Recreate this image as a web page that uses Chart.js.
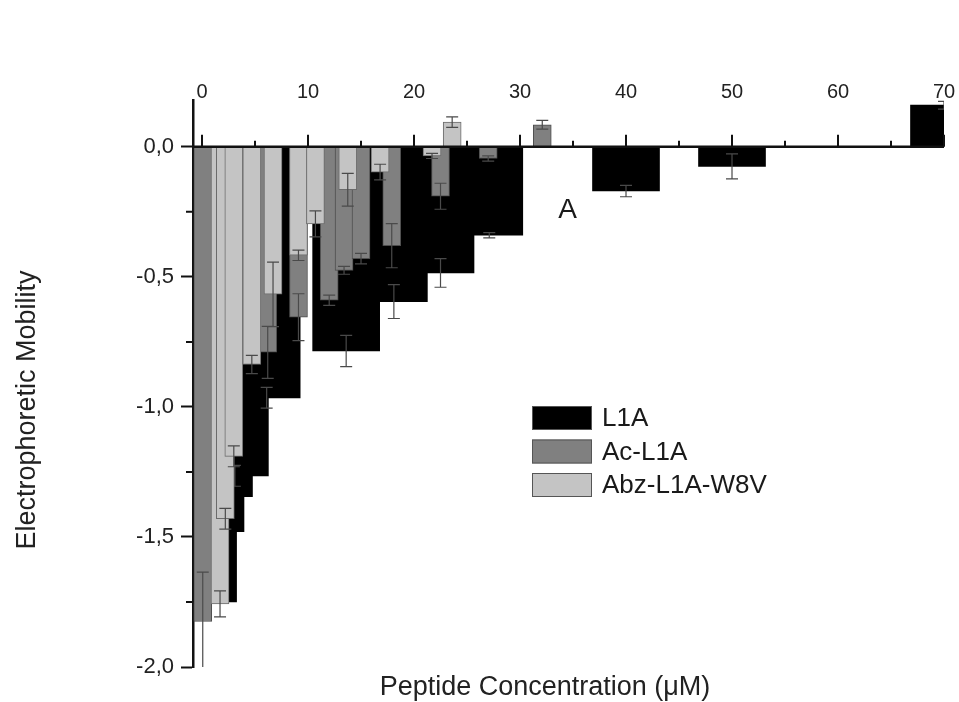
<!DOCTYPE html>
<html>
<head>
<meta charset="utf-8">
<script src="https://cdn.jsdelivr.net/npm/chart.js@4.4.1/dist/chart.umd.min.js"></script>
<style>
  html, body { margin: 0; padding: 0; background: #fff; }
</style>
</head>
<body>
<canvas id="mobilityChart" width="959" height="702"></canvas>
<script>
// peptide concentration (uM) / electrophoretic mobility / error, per peptide
const l1aConc = [0.1, 0.8, 1.6, 3.1, 6.1, 13.6, 18.1, 22.5, 27.1, 40, 50, 70];
const l1aMob  = [-1.75, -1.48, -1.345, -1.265, -0.965, -0.785, -0.595, -0.485, -0.34, -0.17, -0.075, 0.16];
const l1aErr  = [0.04, 0.04, 0.04, 0.04, 0.04, 0.06, 0.065, 0.055, 0.01, 0.022, 0.048, 0.015];

const acConc = [0.07, 6.2, 9.1, 12.0, 13.4, 15.0, 17.9, 22.5, 27.0, 32.1];
const acMob  = [-1.825, -0.79, -0.655, -0.59, -0.475, -0.43, -0.38, -0.19, -0.045, 0.085];
const acErr  = [0.19, 0.1, 0.09, 0.02, 0.015, 0.02, 0.085, 0.05, 0.01, 0.017];

const abzConc = [1.7, 2.2, 3.0, 4.7, 6.7, 9.1, 10.7, 13.75, 16.8, 21.7, 23.6];
const abzMob  = [-1.757, -1.43, -1.19, -0.837, -0.567, -0.417, -0.296, -0.165, -0.097, -0.035, 0.095];
const abzErr  = [0.05, 0.04, 0.04, 0.035, 0.124, 0.02, 0.05, 0.063, 0.03, 0.01, 0.02];

const xTicks = [0, 10, 20, 30, 40, 50, 60, 70];
const xMinorTicks = [5, 15, 25, 35, 45, 55, 65];
const yTicks = [0, -0.5, -1.0, -1.5, -2.0];
const yMinorTicks = [-0.25, -0.75, -1.25, -1.75];

const FONT = "'Liberation Sans', Arial, sans-serif";
const points = (xs, ys) => xs.map((x, i) => ({x: x, y: ys[i]}));

// error bars, drawn right after their own dataset so later bars cover them
const errorBars = {
    id: 'errorBars',
    afterDatasetDraw(chart, args) {
        const ds = chart.data.datasets[args.index];
        if (!ds.errors) return;
        const {ctx, chartArea: a} = chart;
        const y = chart.scales.y;
        ctx.save();
        ctx.beginPath();
        ctx.rect(a.left, a.top, a.right - a.left, a.bottom - a.top);
        ctx.clip();
        ctx.strokeStyle = '#4a4a4a';
        ctx.lineWidth = 1.2;
        args.meta.data.forEach((bar, i) => {
            const v = ds.data[i].y, e = ds.errors[i];
            const y1 = y.getPixelForValue(v - e), y2 = y.getPixelForValue(v + e);
            ctx.beginPath();
            ctx.moveTo(bar.x, y1); ctx.lineTo(bar.x, y2);
            ctx.moveTo(bar.x - 6, y1); ctx.lineTo(bar.x + 6, y1);
            ctx.moveTo(bar.x - 6, y2); ctx.lineTo(bar.x + 6, y2);
            ctx.stroke();
        });
        ctx.restore();
    }
};

// zero line with its upward ticks, plus minor ticks on the left axis
const axisMarks = {
    id: 'axisMarks',
    afterDatasetsDraw(chart) {
        const {ctx, chartArea: a, scales: {x, y}} = chart;
        const y0 = y.getPixelForValue(0);
        ctx.save();
        ctx.strokeStyle = '#111';
        ctx.lineWidth = 2.5;
        ctx.beginPath();
        ctx.moveTo(a.left, y0); ctx.lineTo(a.right, y0);
        ctx.stroke();
        ctx.lineWidth = 2;
        ctx.beginPath();
        xTicks.forEach(v => { const px = x.getPixelForValue(v); ctx.moveTo(px, y0); ctx.lineTo(px, y0 - 12); });
        xMinorTicks.forEach(v => { const px = x.getPixelForValue(v); ctx.moveTo(px, y0); ctx.lineTo(px, y0 - 6); });
        yMinorTicks.forEach(v => { const py = y.getPixelForValue(v); ctx.moveTo(a.left, py); ctx.lineTo(a.left - 7, py); });
        ctx.stroke();
        ctx.restore();
    }
};

// legend boxes inside the plot, panel letter and the two axis titles
const boxLegend = {
    id: 'boxLegend',
    afterDraw(chart, args, opts) {
        const {ctx, scales: {x, y}} = chart;
        ctx.save();
        ctx.font = '26px ' + FONT;
        ctx.textBaseline = 'middle';
        ctx.textAlign = 'left';
        chart.data.datasets.forEach((ds, i) => {
            const top = opts.top + i * opts.rowGap;
            ctx.fillStyle = ds.backgroundColor;
            ctx.fillRect(opts.left, top, opts.boxWidth, opts.boxHeight);
            ctx.strokeStyle = '#555';
            ctx.lineWidth = 1;
            ctx.strokeRect(opts.left + 0.5, top + 0.5, opts.boxWidth - 1, opts.boxHeight - 1);
            ctx.fillStyle = '#1a1a1a';
            ctx.fillText(ds.label, opts.left + opts.boxWidth + 10, top + opts.boxHeight / 2 + 1);
        });
        ctx.font = '28px ' + FONT;
        ctx.textAlign = 'center';
        ctx.fillText('A', x.getPixelForValue(34.5), y.getPixelForValue(-0.245));

        ctx.fillStyle = '#222';
        ctx.font = '27px ' + FONT;
        ctx.fillText('Peptide Concentration (\u03bcM)', opts.xTitle[0], opts.xTitle[1]);
        ctx.translate(opts.yTitle[0], opts.yTitle[1]);
        ctx.rotate(-Math.PI / 2);
        ctx.fillText('Electrophoretic Mobility', 0, 0);
        ctx.restore();
    }
};

const ctx = document.getElementById('mobilityChart').getContext('2d');
new Chart(ctx, {
    type: 'bar',
    data: {
        datasets: [
            {
                label: 'L1A',
                data: points(l1aConc, l1aMob),
                errors: l1aErr,
                backgroundColor: '#000000',
                borderWidth: 0,
                barThickness: 67,
                grouped: false,
                order: 3,
            },
            {
                label: 'Ac-L1A',
                data: points(acConc, acMob),
                errors: acErr,
                backgroundColor: '#808080',
                borderColor: '#4d4d4d',
                borderWidth: 1,
                barThickness: 18,
                grouped: false,
                order: 2,
            },
            {
                label: 'Abz-L1A-W8V',
                data: points(abzConc, abzMob),
                errors: abzErr,
                backgroundColor: '#c4c4c4',
                borderColor: '#6b6b6b',
                borderWidth: 1,
                barThickness: 18,
                grouped: false,
                order: 1,
            },
        ],
    },
    options: {
        responsive: false,
        animation: false,
        layout: {padding: {left: 0, right: 15, top: 0, bottom: 35}},
        scales: {
            x: {
                type: 'linear',
                position: 'top',
                min: -0.85,
                max: 70,
                offset: false,
                afterBuildTicks: s => { s.ticks = xTicks.map(v => ({value: v})); },
                afterFit: s => { s.height = 100; },
                grid: {display: false, drawTicks: false},
                border: {display: false},
                ticks: {
                    color: '#222',
                    font: {family: FONT, size: 20, lineHeight: 1},
                    padding: -2,
                    maxRotation: 0,
                    autoSkip: false,
                },
            },
            y: {
                min: -2,
                max: 0.18,
                z: 1,
                afterBuildTicks: s => { s.ticks = yTicks.map(v => ({value: v})); },
                afterFit: s => { s.width = 193; },
                grid: {drawOnChartArea: false, tickLength: 12, tickWidth: 2, tickColor: '#111'},
                border: {color: '#111', width: 2.5},
                ticks: {
                    color: '#222',
                    font: {family: FONT, size: 22},
                    padding: 7,
                    callback: v => v.toFixed(1).replace('.', ','),
                },
            },
        },
        plugins: {
            legend: {display: false},
            tooltip: {enabled: false},
            boxLegend: {
                left: 532, top: 406, boxWidth: 60, boxHeight: 24, rowGap: 33.5,
                xTitle: [545, 688], yTitle: [28, 410],
            },
        },
    },
    plugins: [errorBars, axisMarks, boxLegend],
});
</script>
</body>
</html>
